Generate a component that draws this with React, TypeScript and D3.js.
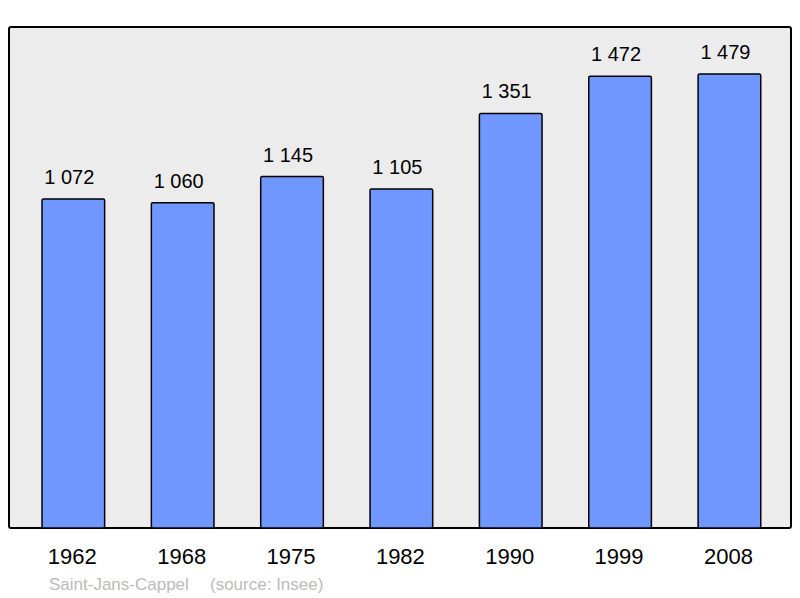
import React from "react";
import * as d3 from "d3";

const years: string[] = ["1962", "1968", "1975", "1982", "1990", "1999", "2008"];
const population: number[] = [1072, 1060, 1145, 1105, 1351, 1472, 1479];
const valueLabels: string[] = ["1 072", "1 060", "1 145", "1 105", "1 351", "1 472", "1 479"];
const townName = "Saint-Jans-Cappel";
const sourceText = "(source: Insee)";

const W = 800;
const H = 598;
const frame = { x: 9, y: 27, w: 782, h: 501 };

export default function App() {
  const x = d3
    .scaleBand<string>()
    .domain(years)
    .range([18.65, 784.1])
    .paddingInner(0.427)
    .paddingOuter(0.2135);
  const y = d3.scaleLinear().domain([0, 1632.5]).range([frame.y + frame.h, frame.y]);
  const font = "'Liberation Sans', Arial, sans-serif";

  return (
    <div style={{ position: "fixed", left: 0, top: 0 }}>
      <svg width={W} height={H} style={{ display: "block" }} fontFamily={font}>
        <rect x={0} y={0} width={W} height={H} fill="#ffffff" />
        <rect
          x={frame.x}
          y={frame.y}
          width={frame.w}
          height={frame.h}
          rx={2}
          fill="#ececec"
          stroke="#000"
          strokeWidth={2}
        />
        {years.map((yr, i) => {
          const bx = x(yr) as number;
          const by = y(population[i]);
          return (
            <g key={yr}>
              <rect
                x={bx}
                y={by}
                width={x.bandwidth()}
                height={y(0) - by}
                rx={1.5}
                fill="#7096ff"
                stroke="#000"
                strokeWidth={1.5}
              />
              <text
                x={bx + x.bandwidth() / 2 - 4}
                y={by - 15}
                textAnchor="middle"
                fontSize={20}
                fill="#000"
              >
                {valueLabels[i]}
              </text>
              <text
                x={bx + x.bandwidth() / 2 - 1}
                y={564}
                textAnchor="middle"
                fontSize={22}
                fill="#000"
              >
                {yr}
              </text>
            </g>
          );
        })}
        <text x={49} y={590} fontSize={17} fill="#bbbbbb">
          {townName}
        </text>
        <text x={210} y={590} fontSize={17} fill="#bbbbbb">
          {sourceText}
        </text>
      </svg>
    </div>
  );
}
